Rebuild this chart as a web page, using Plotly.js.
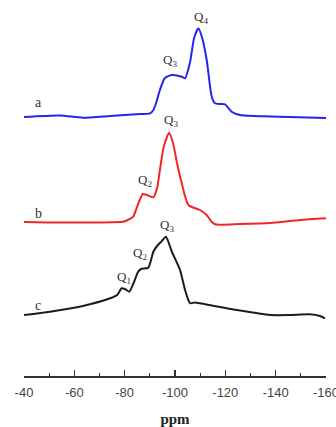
<!DOCTYPE html>
<html>
<head>
<meta charset="utf-8">
<script src="https://cdn.plot.ly/plotly-3.0.1.min.js"></script>
<style>html,body{margin:0;padding:0;background:#fff;}#chart{width:336px;height:427px;}</style>
</head>
<body>
<div id="chart"></div>
<script>
// Chemical shift (ppm) and relative intensity for each spectrum
const ppmA = [-40, -54.3, -63.4, -74.2, -86.1, -90.1, -91.4, -92.5, -94.0, -96.0, -98.7, -102.7, -104.0, -106.0, -107.6, -109.3, -110.8, -112.6, -114.6, -115.9, -117.9, -119.9, -122.5, -125.8, -137.8, -160];
const intA = [0, 1.5, -0.7, 1, 3, 3.7, 7, 14, 27, 39, 42, 40.3, 38.7, 55, 79, 88.7, 79, 57, 20.3, 13.7, 13, 12.7, 5.3, 2, 0.5, -1];

const ppmB = [-40, -54.3, -79.3, -81.3, -83.4, -84.9, -87.2, -88.9, -91.4, -92.9, -94.0, -95.6, -97.7, -99.2, -100.8, -102.7, -105.3, -109.9, -112.6, -114.3, -115.9, -125.8, -137.8, -149.7, -160];
const intB = [0, -0.5, 0.3, 2, 5.3, 15, 28, 27, 24.7, 34, 52, 76, 89.3, 79, 59, 38.7, 17, 12, 7, 1, -2.3, -2, -1, 2, 3.7];

const ppmC = [-40, -50.3, -63.4, -74.2, -77.0, -78.8, -80.1, -81.8, -83.7, -85.3, -86.5, -89.4, -91.4, -93.2, -94.8, -96.4, -98.8, -102.0, -104.0, -105.3, -106.0, -108.0, -109.9, -124.5, -137.8, -145.7, -153.6, -157.6, -159.6];
const intC = [0, 3.3, 9, 16.7, 20, 26.7, 26, 23.3, 33, 43, 46, 47.3, 63.3, 70, 74, 78.3, 63, 45, 25, 15, 11.7, 12.5, 11.7, 5, 0, 0, 0.7, -1, -3.3];

const labels = ['a', 'b', 'c'];
const tickVals = [-40, -60, -80, -100, -120, -140, -160];
const tickText = ['-40', '-60', '-80', '-100', '-120', '-140', '-160'];

const colors = ['#2424f2', '#f02626', '#1c1c1c'];
const offsets = [259, 154, 61];

const series = [[ppmA, intA], [ppmB, intB], [ppmC, intC]];
const traces = series.map((s, i) => ({
  x: s[0],
  y: s[1].map(v => v + offsets[i]),
  type: 'scatter',
  mode: 'lines',
  line: {color: colors[i], width: 2, shape: 'spline', smoothing: 0.6},
  hoverinfo: 'skip',
  showlegend: false
}));

const serif = {family: 'Liberation Serif, Times New Roman, serif', size: 14, color: '#333'};
const qfont = {family: 'Liberation Serif, Times New Roman, serif', size: 13, color: '#333'};

const annotations = [
  {x: -45.6, y: offsets[0] + 15, text: labels[0], font: serif},
  {x: -45.6, y: offsets[1] + 9, text: labels[1], font: serif},
  {x: -45.6, y: offsets[2] + 10, text: labels[2], font: serif},
  {x: -110.3, y: 359, text: 'Q<sub>4</sub>', font: qfont},
  {x: -98.0, y: 316, text: 'Q<sub>3</sub>', font: qfont},
  {x: -98.4, y: 256, text: 'Q<sub>3</sub>', font: qfont},
  {x: -88.1, y: 196, text: 'Q<sub>2</sub>', font: qfont},
  {x: -96.8, y: 151, text: 'Q<sub>3</sub>', font: qfont},
  {x: -86.1, y: 123, text: 'Q<sub>2</sub>', font: qfont},
  {x: -79.7, y: 99, text: 'Q<sub>1</sub>', font: qfont}
].map(a => Object.assign({showarrow: false, xref: 'x', yref: 'y'}, a));

const layout = {
  width: 336, height: 427,
  margin: {l: 24, r: 10, t: 0, b: 51},
  paper_bgcolor: '#fff', plot_bgcolor: '#fff',
  showlegend: false,
  xaxis: {
    range: [-40, -160],
    tickmode: 'array', tickvals: tickVals, ticktext: tickText,
    ticks: 'inside', ticklen: 6, tickwidth: 1.2, tickcolor: '#333',
    minor: {ticks: 'inside', dtick: 10, tick0: -40, ticklen: 3, tickwidth: 1.2, tickcolor: '#333'},
    showline: true, linecolor: '#333', linewidth: 1.5,
    showgrid: false, zeroline: false,
    ticklabeloverflow: 'allow',
    ticklabelstandoff: 4,
    tickfont: {family: 'Liberation Sans, Arial, sans-serif', size: 13, color: '#444'},
    title: {text: '<b>ppm</b>', font: {family: 'Liberation Serif, Times New Roman, serif', size: 15, color: '#222'}, standoff: 16}
  },
  yaxis: {range: [0, 376], visible: false, showgrid: false, zeroline: false},
  annotations: annotations
};

Plotly.newPlot('chart', traces, layout, {displayModeBar: false, staticPlot: true});
</script>
</body>
</html>
